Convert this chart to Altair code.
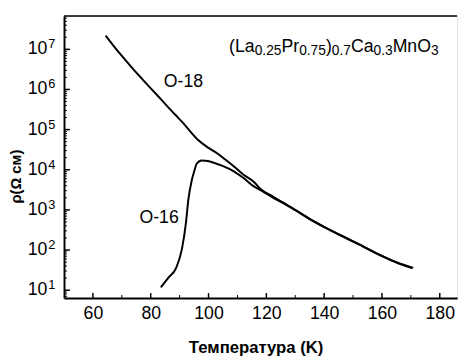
import altair as alt
import pandas as pd

# ---- data ----
t18 = [64.4, 67, 70.9, 74, 77.3, 80.5, 83.5, 86, 88.5, 91, 93.5, 96.4, 100, 103.2, 106, 109, 112,
       115.8, 118, 122, 126, 130, 135, 140, 146.3, 152, 160, 165, 170.8]
rho18 = [2.19e7, 1.26e7, 5.75e6, 3.16e6, 1.74e6, 9.8e5, 5.75e5, 3.63e5, 2.34e5, 1.51e5, 9.3e4, 5.5e4,
         3.5e4, 2.5e4, 1.74e4, 1.17e4, 7.6e3, 4.9e3, 3.3e3, 2.2e3, 1.5e3, 1.0e3, 600, 380, 224, 141,
         72, 50, 36]
t16 = [83.5, 86, 88.8, 90.8, 92.2, 93.0, 94.2, 95.0, 95.9, 97.6, 99.8, 102, 104.4, 107, 109, 112,
       115.8, 118, 122, 126, 130, 135, 140, 146.3, 152, 160, 165, 170.5]
rho16 = [11.7, 20, 36, 107, 490, 1780, 5500, 8900, 1.41e4, 1.7e4, 1.66e4, 1.48e4, 1.29e4, 1.07e4,
         8900, 6300, 3800, 3100, 2090, 1450, 980, 590, 370, 219, 138, 71, 49, 35.5]

x_ticks = [60, 80, 100, 120, 140, 160, 180]
x_minor = [70, 90, 110, 130, 150, 170]
y_decades = [1e1, 1e2, 1e3, 1e4, 1e5, 1e6, 1e7]
y_exps = ["1", "2", "3", "4", "5", "6", "7"]
y_minor = [m * 10 ** e for e in range(0, 8) for m in range(2, 10) if 6.4 < m * 10 ** e < 6.8e7]

formula = [("(La", False), ("0.25", True), ("Pr", False), ("0.75", True), (")", False),
           ("0.7", True), ("Ca", False), ("0.3", True), ("MnO", False), ("3", True)]

W, H = 400, 287
FONT = "Liberation Sans"

df = pd.DataFrame({
    "T": t18 + t16,
    "rho": rho18 + rho16,
    "series": ["O-18"] * len(t18) + ["O-16"] * len(t16),
})

xscale = alt.Scale(domain=[50, 186], nice=False)
yscale = alt.Scale(type="log", domain=[6.4, 6.8e7], nice=False)

x_axis = alt.Axis(
    values=x_ticks, ticks=False, grid=False, labelFontSize=18, labelFont=FONT,
    labelColor="black", labelPadding=7, domainColor="black", domainWidth=2,
    title="Температура (K)", titleFont=FONT, titleFontSize=17, titleFontWeight="bold",
    titleColor="black", titleX=195, titleY=55, titleBaseline="alphabetic")
y_axis = alt.Axis(
    labels=False, ticks=False, grid=False, domainColor="black", domainWidth=2,
    title="ρ(Ω см)", titleFont=FONT, titleFontSize=15, titleFontWeight="bold",
    titleColor="black", titleX=-49, titleY=163, titleAngle=270,
    titleAlign="center", titleBaseline="middle")


def X(f):
    return alt.X(f, scale=xscale, axis=x_axis)


def Y(f):
    return alt.Y(f, scale=yscale, axis=y_axis)


lines = alt.Chart(df).mark_line(color="black", strokeWidth=2, interpolate="monotone").encode(
    x=X("T:Q"), y=Y("rho:Q"), detail="series:N", order="T:Q")

top_border = alt.Chart().mark_rule(color="black", strokeWidth=1.5).encode(
    x=alt.value(0), x2=alt.value(W), y=alt.value(0))

ymaj = alt.Chart(pd.DataFrame({"rho": y_decades, "e": y_exps}))
ymin = alt.Chart(pd.DataFrame({"rho": y_minor}))
xmaj = alt.Chart(pd.DataFrame({"T": x_ticks}))
xmin = alt.Chart(pd.DataFrame({"T": x_minor}))

ytick_major = ymaj.mark_rule(color="black", strokeWidth=1.5).encode(
    y=Y("rho:Q"), x=alt.value(0), x2=alt.value(6))
ytick_minor = ymin.mark_rule(color="black", strokeWidth=1).encode(
    y=Y("rho:Q"), x=alt.value(0), x2=alt.value(3))
xtick_major = xmaj.mark_rule(color="black", strokeWidth=1.5).encode(
    x=X("T:Q"), y=alt.value(H), y2=alt.value(H - 5))
xtick_minor = xmin.mark_rule(color="black", strokeWidth=1).encode(
    x=X("T:Q"), y=alt.value(H), y2=alt.value(H - 3))

ylab_base = ymaj.mark_text(align="right", baseline="middle", fontSize=18, font=FONT,
                           color="black").encode(
    y=Y("rho:Q"), x=alt.value(-17), text=alt.value("10"))
ylab_exp = ymaj.mark_text(align="left", baseline="alphabetic", fontSize=13, font=FONT,
                          color="black", dy=-1).encode(
    y=Y("rho:Q"), x=alt.value(-16), text="e:N")

lab18 = alt.Chart().mark_text(fontSize=18, font=FONT, color="black").encode(
    x=alt.datum(91.3), y=alt.datum(1.5e6), text=alt.value("O-18"))
lab16 = alt.Chart().mark_text(fontSize=18, font=FONT, color="black").encode(
    x=alt.datum(82.9), y=alt.datum(640), text=alt.value("O-16"))

# formula annotation built from segments (Arial-metric widths)
cw = {"(": 0.333, ")": 0.333, "L": 0.556, "a": 0.556, "P": 0.667, "r": 0.333, "C": 0.722,
      "M": 0.833, "n": 0.556, "O": 0.778, ".": 0.278}
formula_layers = []
xpos = 168.0
for txt, sub in formula:
    size = 14 if sub else 18
    ypos = 39.5 if sub else 36.5
    formula_layers.append(alt.Chart().mark_text(
        align="left", baseline="alphabetic", fontSize=size, font=FONT, color="black").encode(
        x=alt.value(xpos), y=alt.value(ypos), text=alt.value(txt)))
    xpos += sum(cw.get(c, 0.556) for c in txt) * size

chart = alt.layer(
    lines, top_border, ytick_major, ytick_minor, xtick_major, xtick_minor,
    ylab_base, ylab_exp, lab18, lab16, *formula_layers
).properties(
    width=W, height=H,
    autosize=alt.AutoSizeParams(type="none"),
    padding={"left": 57, "top": 5, "right": 6, "bottom": 56},
).configure_view(stroke=None).configure(background="white")

chart.save("out.html", embed_options={"renderer": "svg", "actions": False})
